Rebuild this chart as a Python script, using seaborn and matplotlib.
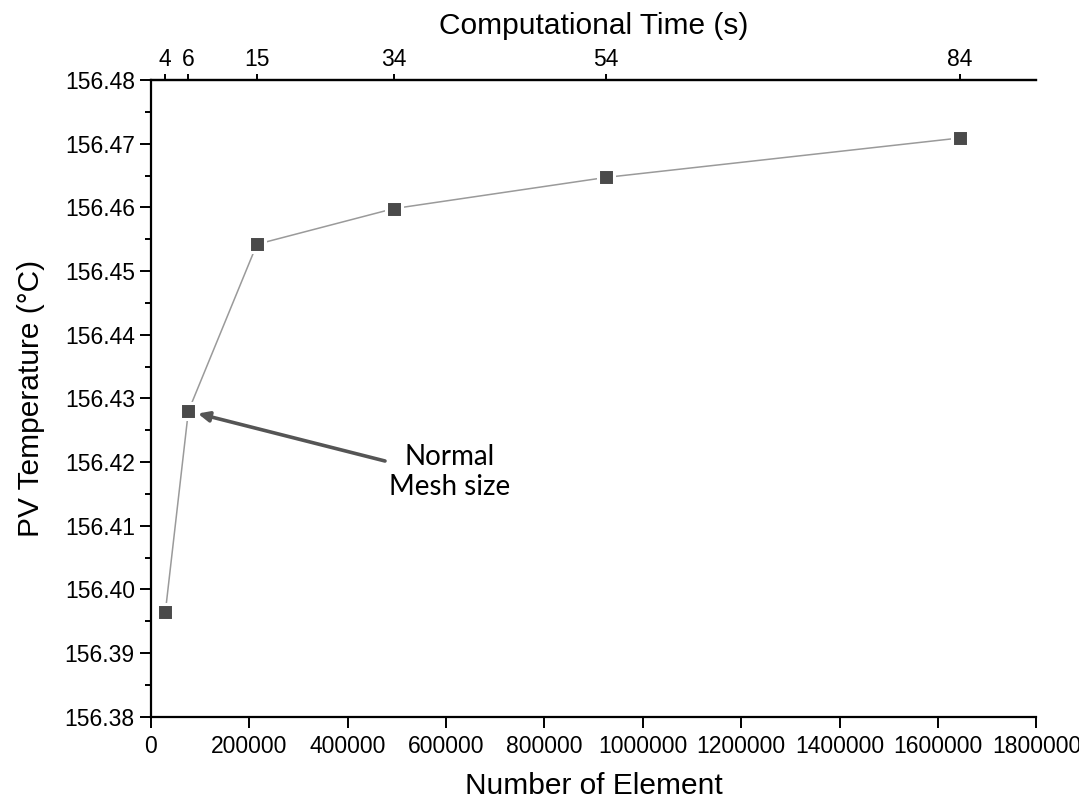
import matplotlib
matplotlib.use("Agg")
import matplotlib.pyplot as plt
import seaborn as sns
import pandas as pd
from matplotlib.ticker import MultipleLocator

# Mesh independence study: element count vs. PV temperature, with run times
elements = [29400, 76300, 215600, 493500, 925000, 1645000]
comp_time = [4, 6, 15, 34, 54, 84]
pv_temp = [156.3964, 156.4280, 156.4542, 156.4598, 156.4647, 156.4709]
x_ticks = [0, 200000, 400000, 600000, 800000, 1000000, 1200000, 1400000, 1600000, 1800000]

df = pd.DataFrame({"elements": elements, "temp": pv_temp, "time": comp_time})

sns.set_theme(style="white")
plt.rcParams["font.family"] = ["Liberation Sans", "DejaVu Sans"]

fig = plt.figure(figsize=(10.79, 8.0), dpi=100)
ax = fig.add_axes([0.1398, 0.104, 0.8207, 0.796])

sns.lineplot(data=df, x="elements", y="temp", ax=ax, color="#9a9a9a",
             linewidth=1.1, sort=False, zorder=2)
sns.scatterplot(data=df, x="elements", y="temp", ax=ax, marker="s", s=140,
                color="#4a4a4a", edgecolor="white", linewidth=2.2, zorder=3)

ax.set_xlim(0, 1800000)
ax.set_ylim(156.38, 156.48)
ax.set_xticks(x_ticks)
ax.set_xticklabels([str(v) for v in x_ticks])
ax.yaxis.set_major_locator(MultipleLocator(0.01))
ax.yaxis.set_minor_locator(MultipleLocator(0.005))
ax.yaxis.set_major_formatter(matplotlib.ticker.FormatStrFormatter("%.2f"))

for side in ["left", "bottom", "top"]:
    ax.spines[side].set_visible(True)
    ax.spines[side].set_color("black")
    ax.spines[side].set_linewidth(1.6)
ax.spines["right"].set_visible(False)

ax.tick_params(axis="both", which="major", direction="out", length=8,
               width=1.4, color="black", labelsize=16.5, labelcolor="black",
               left=True, bottom=True)
ax.tick_params(axis="x", pad=5)
ax.tick_params(axis="y", which="minor", direction="out", length=4.5,
               width=1.4, color="black", left=True)

ax.set_xlabel("Number of Element", fontsize=21.5, labelpad=10, color="black")
ax.set_ylabel("PV Temperature (°C)", fontsize=21.5, labelpad=14, color="black")

# Top axis: computational time at each mesh
top = ax.secondary_xaxis("top")
top.set_xticks(elements)
top.set_xticklabels([str(t) for t in comp_time])
top.tick_params(direction="out", length=4.5, width=1.4, labelsize=16.5,
                colors="black", pad=2)
top.spines["top"].set_linewidth(1.6)
top.set_xlabel("Computational Time (s)", fontsize=21.5, labelpad=10, color="black")

# Callout for the chosen mesh
fig.text(450, 800 - 472, "Normal\nMesh size", transform=None,
         ha="center", va="center", fontsize=20, family=["Lato", "DejaVu Sans"],
         linespacing=1.2, color="black")
ax.annotate("", xy=(elements[1], pv_temp[1]),
            xytext=(385, 800 - 461), textcoords="figure pixels",
            arrowprops=dict(arrowstyle="-|>,head_length=0.55,head_width=0.25",
                            color="#555555", lw=2.6, shrinkA=0, shrinkB=7))

fig.savefig("out.png", dpi=100, facecolor="white")
